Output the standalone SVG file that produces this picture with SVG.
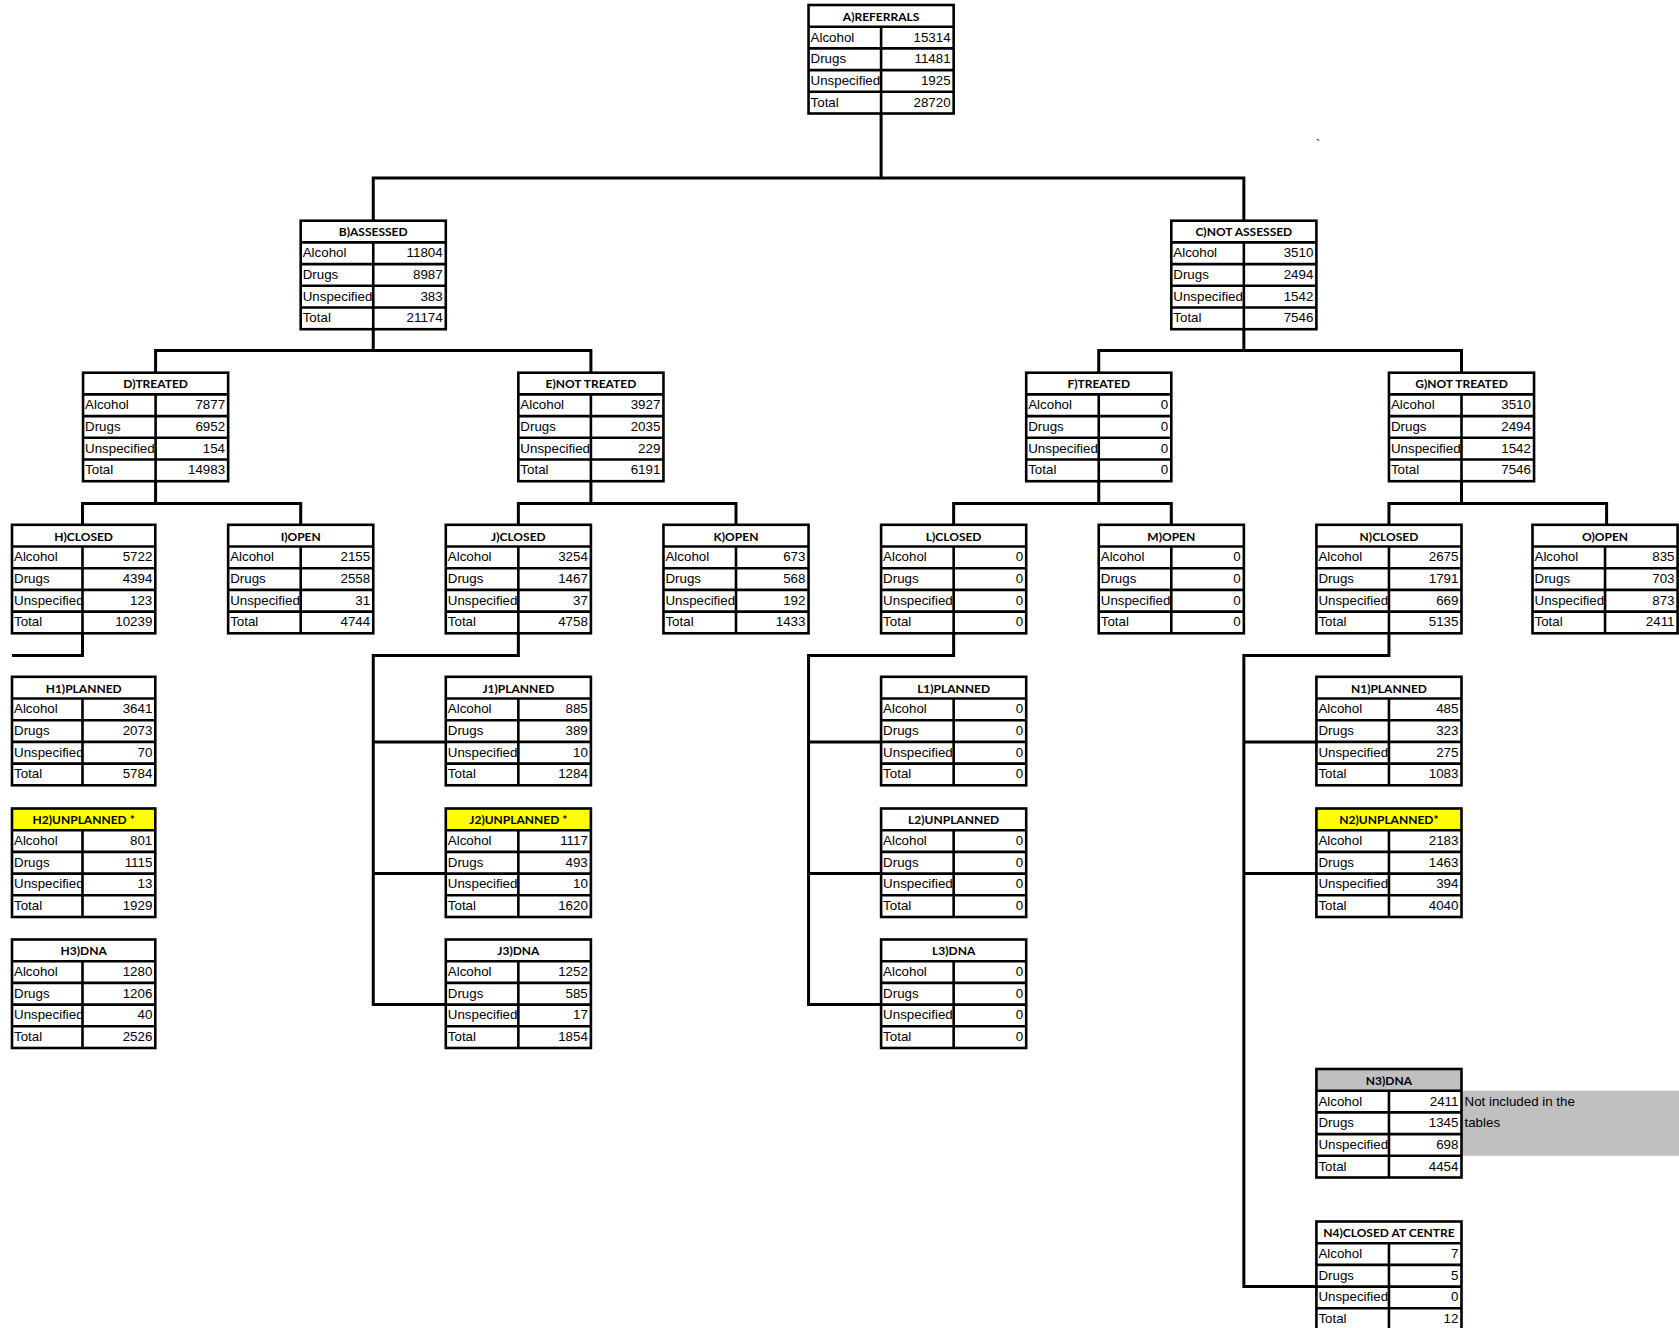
<svg xmlns="http://www.w3.org/2000/svg" xmlns:xlink="http://www.w3.org/1999/xlink" width="1679" height="1328" viewBox="0 0 1679 1328">
<style>
.h{font-family:Lato,"Liberation Sans",sans-serif;font-weight:700;font-size:12px;text-anchor:middle;fill:#000}
.l{font-family:"Liberation Sans",Arial,sans-serif;font-size:13.33px;fill:#000}
.v{font-family:"Liberation Sans",Arial,sans-serif;font-size:13.33px;fill:#000;text-anchor:end}
.hd{fill:#fff}
.yl{fill:#ffff00}
.gy{fill:#c0c0c0}
.grid{fill:none;stroke:#000;stroke-width:2.6}
.conn{fill:none;stroke:#000;stroke-width:3}
</style>
<defs>
<g id="grid" class="grid">
<rect x="0" y="0" width="145.1" height="108.5"/>
<path d="M0 21.7H145.1M0 43.4H145.1M0 65.1H145.1M0 86.8H145.1M72.55 21.7V108.5"/>
</g>
<rect id="vmask" x="72.55" y="21.7" width="72.55" height="86.8" fill="#fff"/>
<g id="gridn" class="grid">
<rect x="0" y="0" width="143.3" height="108.5"/>
<path d="M0 21.7H143.3M0 43.4H143.3M0 65.1H143.3M0 86.8H143.3M70.5 21.7V108.5"/>
</g>
<rect id="vmaskn" x="70.5" y="21.7" width="72.8" height="86.8" fill="#fff"/>
</defs>
<rect width="1679" height="1328" fill="#fff"/>
<text class="l" x="1316" y="149" font-size="11">`</text>
<rect x="1461.5" y="1090.7" width="217.6" height="65.1" fill="#c0c0c0"/>
<text class="l" x="1464.5" y="1105.5">Not included in the</text>
<text class="l" x="1464.5" y="1127.2">tables</text>

<g id="connectors">
<path class="conn" d="M373.25 220.7V178H1243.85V220.7M881.1 113V178"/>
<path class="conn" d="M155.6 372.7V350.5H590.9V372.7M373.25 329.2V350.5"/>
<path class="conn" d="M1098.75 372.7V350.5H1461.5V372.7M1243.85 329.2V350.5"/>
<path class="conn" d="M82.5 524.8V503.5H300.7V524.8M155.6 481.2V503.5"/>
<path class="conn" d="M518.35 524.8V503.5H736V524.8M590.9 481.2V503.5"/>
<path class="conn" d="M953.65 524.8V503.5H1171.3V524.8M1098.75 481.2V503.5"/>
<path class="conn" d="M1388.95 524.8V503.5H1606.6V524.8M1461.5 481.2V503.5"/>
<path class="conn" d="M82.5 633.3V655.5H12"/>
<path class="conn" d="M518.35 633.3V655.5H373.25V1004.6H445.8M373.25 741.9H445.8M373.25 873.6H445.8"/>
<path class="conn" d="M953.65 633.3V655.5H808.55V1004.6H881.1M808.55 741.9H881.1M808.55 873.6H881.1"/>
<path class="conn" d="M1388.95 633.3V655.5H1243.85V1286.6H1316.4M1243.85 741.9H1316.4M1243.85 873.6H1316.4"/>
</g>

<g id="node-a" transform="translate(808.55,5)">
<rect class="hd" width="145.1" height="21.7"/><text class="h" x="72.55" y="15.8">A)REFERRALS</text>
<text class="l" x="2" y="36.5">Alcohol</text><text class="l" x="2" y="58.2">Drugs</text><text class="l" x="2" y="79.9">Unspecified</text><text class="l" x="2" y="101.6">Total</text>
<use href="#vmask"/>
<text class="v" x="142" y="36.5">15314</text><text class="v" x="142" y="58.2">11481</text><text class="v" x="142" y="79.9">1925</text><text class="v" x="142" y="101.6">28720</text>
<use href="#grid"/>
</g>

<g id="node-b" transform="translate(300.7,220.7)">
<rect class="hd" width="145.1" height="21.7"/><text class="h" x="72.55" y="15.8">B)ASSESSED</text>
<text class="l" x="2" y="36.5">Alcohol</text><text class="l" x="2" y="58.2">Drugs</text><text class="l" x="2" y="79.9">Unspecified</text><text class="l" x="2" y="101.6">Total</text>
<use href="#vmask"/>
<text class="v" x="142" y="36.5">11804</text><text class="v" x="142" y="58.2">8987</text><text class="v" x="142" y="79.9">383</text><text class="v" x="142" y="101.6">21174</text>
<use href="#grid"/>
</g>

<g id="node-c" transform="translate(1171.3,220.7)">
<rect class="hd" width="145.1" height="21.7"/><text class="h" x="72.55" y="15.8">C)NOT ASSESSED</text>
<text class="l" x="2" y="36.5">Alcohol</text><text class="l" x="2" y="58.2">Drugs</text><text class="l" x="2" y="79.9">Unspecified</text><text class="l" x="2" y="101.6">Total</text>
<use href="#vmask"/>
<text class="v" x="142" y="36.5">3510</text><text class="v" x="142" y="58.2">2494</text><text class="v" x="142" y="79.9">1542</text><text class="v" x="142" y="101.6">7546</text>
<use href="#grid"/>
</g>

<g id="node-d" transform="translate(83.05,372.7)">
<rect class="hd" width="145.1" height="21.7"/><text class="h" x="72.55" y="15.8">D)TREATED</text>
<text class="l" x="2" y="36.5">Alcohol</text><text class="l" x="2" y="58.2">Drugs</text><text class="l" x="2" y="79.9">Unspecified</text><text class="l" x="2" y="101.6">Total</text>
<use href="#vmask"/>
<text class="v" x="142" y="36.5">7877</text><text class="v" x="142" y="58.2">6952</text><text class="v" x="142" y="79.9">154</text><text class="v" x="142" y="101.6">14983</text>
<use href="#grid"/>
</g>

<g id="node-e" transform="translate(518.35,372.7)">
<rect class="hd" width="145.1" height="21.7"/><text class="h" x="72.55" y="15.8">E)NOT TREATED</text>
<text class="l" x="2" y="36.5">Alcohol</text><text class="l" x="2" y="58.2">Drugs</text><text class="l" x="2" y="79.9">Unspecified</text><text class="l" x="2" y="101.6">Total</text>
<use href="#vmask"/>
<text class="v" x="142" y="36.5">3927</text><text class="v" x="142" y="58.2">2035</text><text class="v" x="142" y="79.9">229</text><text class="v" x="142" y="101.6">6191</text>
<use href="#grid"/>
</g>

<g id="node-f" transform="translate(1026.2,372.7)">
<rect class="hd" width="145.1" height="21.7"/><text class="h" x="72.55" y="15.8">F)TREATED</text>
<text class="l" x="2" y="36.5">Alcohol</text><text class="l" x="2" y="58.2">Drugs</text><text class="l" x="2" y="79.9">Unspecified</text><text class="l" x="2" y="101.6">Total</text>
<use href="#vmask"/>
<text class="v" x="142" y="36.5">0</text><text class="v" x="142" y="58.2">0</text><text class="v" x="142" y="79.9">0</text><text class="v" x="142" y="101.6">0</text>
<use href="#grid"/>
</g>

<g id="node-g" transform="translate(1388.95,372.7)">
<rect class="hd" width="145.1" height="21.7"/><text class="h" x="72.55" y="15.8">G)NOT TREATED</text>
<text class="l" x="2" y="36.5">Alcohol</text><text class="l" x="2" y="58.2">Drugs</text><text class="l" x="2" y="79.9">Unspecified</text><text class="l" x="2" y="101.6">Total</text>
<use href="#vmask"/>
<text class="v" x="142" y="36.5">3510</text><text class="v" x="142" y="58.2">2494</text><text class="v" x="142" y="79.9">1542</text><text class="v" x="142" y="101.6">7546</text>
<use href="#grid"/>
</g>

<g id="node-h" transform="translate(12,524.8)">
<rect class="hd" width="143.3" height="21.7"/><text class="h" x="71.65" y="15.8">H)CLOSED</text>
<text class="l" x="2" y="36.5">Alcohol</text><text class="l" x="2" y="58.2">Drugs</text><text class="l" x="2" y="79.9">Unspecified</text><text class="l" x="2" y="101.6">Total</text>
<use href="#vmaskn"/>
<text class="v" x="140.3" y="36.5">5722</text><text class="v" x="140.3" y="58.2">4394</text><text class="v" x="140.3" y="79.9">123</text><text class="v" x="140.3" y="101.6">10239</text>
<use href="#gridn"/>
</g>

<g id="node-i" transform="translate(228.15,524.8)">
<rect class="hd" width="145.1" height="21.7"/><text class="h" x="72.55" y="15.8">I)OPEN</text>
<text class="l" x="2" y="36.5">Alcohol</text><text class="l" x="2" y="58.2">Drugs</text><text class="l" x="2" y="79.9">Unspecified</text><text class="l" x="2" y="101.6">Total</text>
<use href="#vmask"/>
<text class="v" x="142" y="36.5">2155</text><text class="v" x="142" y="58.2">2558</text><text class="v" x="142" y="79.9">31</text><text class="v" x="142" y="101.6">4744</text>
<use href="#grid"/>
</g>

<g id="node-j" transform="translate(445.8,524.8)">
<rect class="hd" width="145.1" height="21.7"/><text class="h" x="72.55" y="15.8">J)CLOSED</text>
<text class="l" x="2" y="36.5">Alcohol</text><text class="l" x="2" y="58.2">Drugs</text><text class="l" x="2" y="79.9">Unspecified</text><text class="l" x="2" y="101.6">Total</text>
<use href="#vmask"/>
<text class="v" x="142" y="36.5">3254</text><text class="v" x="142" y="58.2">1467</text><text class="v" x="142" y="79.9">37</text><text class="v" x="142" y="101.6">4758</text>
<use href="#grid"/>
</g>

<g id="node-k" transform="translate(663.45,524.8)">
<rect class="hd" width="145.1" height="21.7"/><text class="h" x="72.55" y="15.8">K)OPEN</text>
<text class="l" x="2" y="36.5">Alcohol</text><text class="l" x="2" y="58.2">Drugs</text><text class="l" x="2" y="79.9">Unspecified</text><text class="l" x="2" y="101.6">Total</text>
<use href="#vmask"/>
<text class="v" x="142" y="36.5">673</text><text class="v" x="142" y="58.2">568</text><text class="v" x="142" y="79.9">192</text><text class="v" x="142" y="101.6">1433</text>
<use href="#grid"/>
</g>

<g id="node-l" transform="translate(881.1,524.8)">
<rect class="hd" width="145.1" height="21.7"/><text class="h" x="72.55" y="15.8">L)CLOSED</text>
<text class="l" x="2" y="36.5">Alcohol</text><text class="l" x="2" y="58.2">Drugs</text><text class="l" x="2" y="79.9">Unspecified</text><text class="l" x="2" y="101.6">Total</text>
<use href="#vmask"/>
<text class="v" x="142" y="36.5">0</text><text class="v" x="142" y="58.2">0</text><text class="v" x="142" y="79.9">0</text><text class="v" x="142" y="101.6">0</text>
<use href="#grid"/>
</g>

<g id="node-m" transform="translate(1098.75,524.8)">
<rect class="hd" width="145.1" height="21.7"/><text class="h" x="72.55" y="15.8">M)OPEN</text>
<text class="l" x="2" y="36.5">Alcohol</text><text class="l" x="2" y="58.2">Drugs</text><text class="l" x="2" y="79.9">Unspecified</text><text class="l" x="2" y="101.6">Total</text>
<use href="#vmask"/>
<text class="v" x="142" y="36.5">0</text><text class="v" x="142" y="58.2">0</text><text class="v" x="142" y="79.9">0</text><text class="v" x="142" y="101.6">0</text>
<use href="#grid"/>
</g>

<g id="node-n" transform="translate(1316.4,524.8)">
<rect class="hd" width="145.1" height="21.7"/><text class="h" x="72.55" y="15.8">N)CLOSED</text>
<text class="l" x="2" y="36.5">Alcohol</text><text class="l" x="2" y="58.2">Drugs</text><text class="l" x="2" y="79.9">Unspecified</text><text class="l" x="2" y="101.6">Total</text>
<use href="#vmask"/>
<text class="v" x="142" y="36.5">2675</text><text class="v" x="142" y="58.2">1791</text><text class="v" x="142" y="79.9">669</text><text class="v" x="142" y="101.6">5135</text>
<use href="#grid"/>
</g>

<g id="node-o" transform="translate(1532.5,524.8)">
<rect class="hd" width="145.1" height="21.7"/><text class="h" x="72.55" y="15.8">O)OPEN</text>
<text class="l" x="2" y="36.5">Alcohol</text><text class="l" x="2" y="58.2">Drugs</text><text class="l" x="2" y="79.9">Unspecified</text><text class="l" x="2" y="101.6">Total</text>
<use href="#vmask"/>
<text class="v" x="142" y="36.5">835</text><text class="v" x="142" y="58.2">703</text><text class="v" x="142" y="79.9">873</text><text class="v" x="142" y="101.6">2411</text>
<use href="#grid"/>
</g>

<g id="node-h1" transform="translate(12,676.8)">
<rect class="hd" width="143.3" height="21.7"/><text class="h" x="71.65" y="15.8">H1)PLANNED</text>
<text class="l" x="2" y="36.5">Alcohol</text><text class="l" x="2" y="58.2">Drugs</text><text class="l" x="2" y="79.9">Unspecified</text><text class="l" x="2" y="101.6">Total</text>
<use href="#vmaskn"/>
<text class="v" x="140.3" y="36.5">3641</text><text class="v" x="140.3" y="58.2">2073</text><text class="v" x="140.3" y="79.9">70</text><text class="v" x="140.3" y="101.6">5784</text>
<use href="#gridn"/>
</g>

<g id="node-h2" transform="translate(12,808.5)">
<rect class="yl" width="143.3" height="21.7"/><text class="h" x="71.65" y="15.8">H2)UNPLANNED *</text>
<text class="l" x="2" y="36.5">Alcohol</text><text class="l" x="2" y="58.2">Drugs</text><text class="l" x="2" y="79.9">Unspecified</text><text class="l" x="2" y="101.6">Total</text>
<use href="#vmaskn"/>
<text class="v" x="140.3" y="36.5">801</text><text class="v" x="140.3" y="58.2">1115</text><text class="v" x="140.3" y="79.9">13</text><text class="v" x="140.3" y="101.6">1929</text>
<use href="#gridn"/>
</g>

<g id="node-h3" transform="translate(12,939.5)">
<rect class="hd" width="143.3" height="21.7"/><text class="h" x="71.65" y="15.8">H3)DNA</text>
<text class="l" x="2" y="36.5">Alcohol</text><text class="l" x="2" y="58.2">Drugs</text><text class="l" x="2" y="79.9">Unspecified</text><text class="l" x="2" y="101.6">Total</text>
<use href="#vmaskn"/>
<text class="v" x="140.3" y="36.5">1280</text><text class="v" x="140.3" y="58.2">1206</text><text class="v" x="140.3" y="79.9">40</text><text class="v" x="140.3" y="101.6">2526</text>
<use href="#gridn"/>
</g>

<g id="node-j1" transform="translate(445.8,676.8)">
<rect class="hd" width="145.1" height="21.7"/><text class="h" x="72.55" y="15.8">J1)PLANNED</text>
<text class="l" x="2" y="36.5">Alcohol</text><text class="l" x="2" y="58.2">Drugs</text><text class="l" x="2" y="79.9">Unspecified</text><text class="l" x="2" y="101.6">Total</text>
<use href="#vmask"/>
<text class="v" x="142" y="36.5">885</text><text class="v" x="142" y="58.2">389</text><text class="v" x="142" y="79.9">10</text><text class="v" x="142" y="101.6">1284</text>
<use href="#grid"/>
</g>

<g id="node-j2" transform="translate(445.8,808.5)">
<rect class="yl" width="145.1" height="21.7"/><text class="h" x="72.55" y="15.8">J2)UNPLANNED *</text>
<text class="l" x="2" y="36.5">Alcohol</text><text class="l" x="2" y="58.2">Drugs</text><text class="l" x="2" y="79.9">Unspecified</text><text class="l" x="2" y="101.6">Total</text>
<use href="#vmask"/>
<text class="v" x="142" y="36.5">1117</text><text class="v" x="142" y="58.2">493</text><text class="v" x="142" y="79.9">10</text><text class="v" x="142" y="101.6">1620</text>
<use href="#grid"/>
</g>

<g id="node-j3" transform="translate(445.8,939.5)">
<rect class="hd" width="145.1" height="21.7"/><text class="h" x="72.55" y="15.8">J3)DNA</text>
<text class="l" x="2" y="36.5">Alcohol</text><text class="l" x="2" y="58.2">Drugs</text><text class="l" x="2" y="79.9">Unspecified</text><text class="l" x="2" y="101.6">Total</text>
<use href="#vmask"/>
<text class="v" x="142" y="36.5">1252</text><text class="v" x="142" y="58.2">585</text><text class="v" x="142" y="79.9">17</text><text class="v" x="142" y="101.6">1854</text>
<use href="#grid"/>
</g>

<g id="node-l1" transform="translate(881.1,676.8)">
<rect class="hd" width="145.1" height="21.7"/><text class="h" x="72.55" y="15.8">L1)PLANNED</text>
<text class="l" x="2" y="36.5">Alcohol</text><text class="l" x="2" y="58.2">Drugs</text><text class="l" x="2" y="79.9">Unspecified</text><text class="l" x="2" y="101.6">Total</text>
<use href="#vmask"/>
<text class="v" x="142" y="36.5">0</text><text class="v" x="142" y="58.2">0</text><text class="v" x="142" y="79.9">0</text><text class="v" x="142" y="101.6">0</text>
<use href="#grid"/>
</g>

<g id="node-l2" transform="translate(881.1,808.5)">
<rect class="hd" width="145.1" height="21.7"/><text class="h" x="72.55" y="15.8">L2)UNPLANNED</text>
<text class="l" x="2" y="36.5">Alcohol</text><text class="l" x="2" y="58.2">Drugs</text><text class="l" x="2" y="79.9">Unspecified</text><text class="l" x="2" y="101.6">Total</text>
<use href="#vmask"/>
<text class="v" x="142" y="36.5">0</text><text class="v" x="142" y="58.2">0</text><text class="v" x="142" y="79.9">0</text><text class="v" x="142" y="101.6">0</text>
<use href="#grid"/>
</g>

<g id="node-l3" transform="translate(881.1,939.5)">
<rect class="hd" width="145.1" height="21.7"/><text class="h" x="72.55" y="15.8">L3)DNA</text>
<text class="l" x="2" y="36.5">Alcohol</text><text class="l" x="2" y="58.2">Drugs</text><text class="l" x="2" y="79.9">Unspecified</text><text class="l" x="2" y="101.6">Total</text>
<use href="#vmask"/>
<text class="v" x="142" y="36.5">0</text><text class="v" x="142" y="58.2">0</text><text class="v" x="142" y="79.9">0</text><text class="v" x="142" y="101.6">0</text>
<use href="#grid"/>
</g>

<g id="node-n1" transform="translate(1316.4,676.8)">
<rect class="hd" width="145.1" height="21.7"/><text class="h" x="72.55" y="15.8">N1)PLANNED</text>
<text class="l" x="2" y="36.5">Alcohol</text><text class="l" x="2" y="58.2">Drugs</text><text class="l" x="2" y="79.9">Unspecified</text><text class="l" x="2" y="101.6">Total</text>
<use href="#vmask"/>
<text class="v" x="142" y="36.5">485</text><text class="v" x="142" y="58.2">323</text><text class="v" x="142" y="79.9">275</text><text class="v" x="142" y="101.6">1083</text>
<use href="#grid"/>
</g>

<g id="node-n2" transform="translate(1316.4,808.5)">
<rect class="yl" width="145.1" height="21.7"/><text class="h" x="72.55" y="15.8">N2)UNPLANNED*</text>
<text class="l" x="2" y="36.5">Alcohol</text><text class="l" x="2" y="58.2">Drugs</text><text class="l" x="2" y="79.9">Unspecified</text><text class="l" x="2" y="101.6">Total</text>
<use href="#vmask"/>
<text class="v" x="142" y="36.5">2183</text><text class="v" x="142" y="58.2">1463</text><text class="v" x="142" y="79.9">394</text><text class="v" x="142" y="101.6">4040</text>
<use href="#grid"/>
</g>

<g id="node-n3" transform="translate(1316.4,1069)">
<rect class="gy" width="145.1" height="21.7"/><text class="h" x="72.55" y="15.8">N3)DNA</text>
<text class="l" x="2" y="36.5">Alcohol</text><text class="l" x="2" y="58.2">Drugs</text><text class="l" x="2" y="79.9">Unspecified</text><text class="l" x="2" y="101.6">Total</text>
<use href="#vmask"/>
<text class="v" x="142" y="36.5">2411</text><text class="v" x="142" y="58.2">1345</text><text class="v" x="142" y="79.9">698</text><text class="v" x="142" y="101.6">4454</text>
<use href="#grid"/>
</g>

<g id="node-n4" transform="translate(1316.4,1221.5)">
<rect class="hd" width="145.1" height="21.7"/><text class="h" x="72.55" y="15.8">N4)CLOSED AT CENTRE</text>
<text class="l" x="2" y="36.5">Alcohol</text><text class="l" x="2" y="58.2">Drugs</text><text class="l" x="2" y="79.9">Unspecified</text><text class="l" x="2" y="101.6">Total</text>
<use href="#vmask"/>
<text class="v" x="142" y="36.5">7</text><text class="v" x="142" y="58.2">5</text><text class="v" x="142" y="79.9">0</text><text class="v" x="142" y="101.6">12</text>
<use href="#grid"/>
</g>
</svg>
